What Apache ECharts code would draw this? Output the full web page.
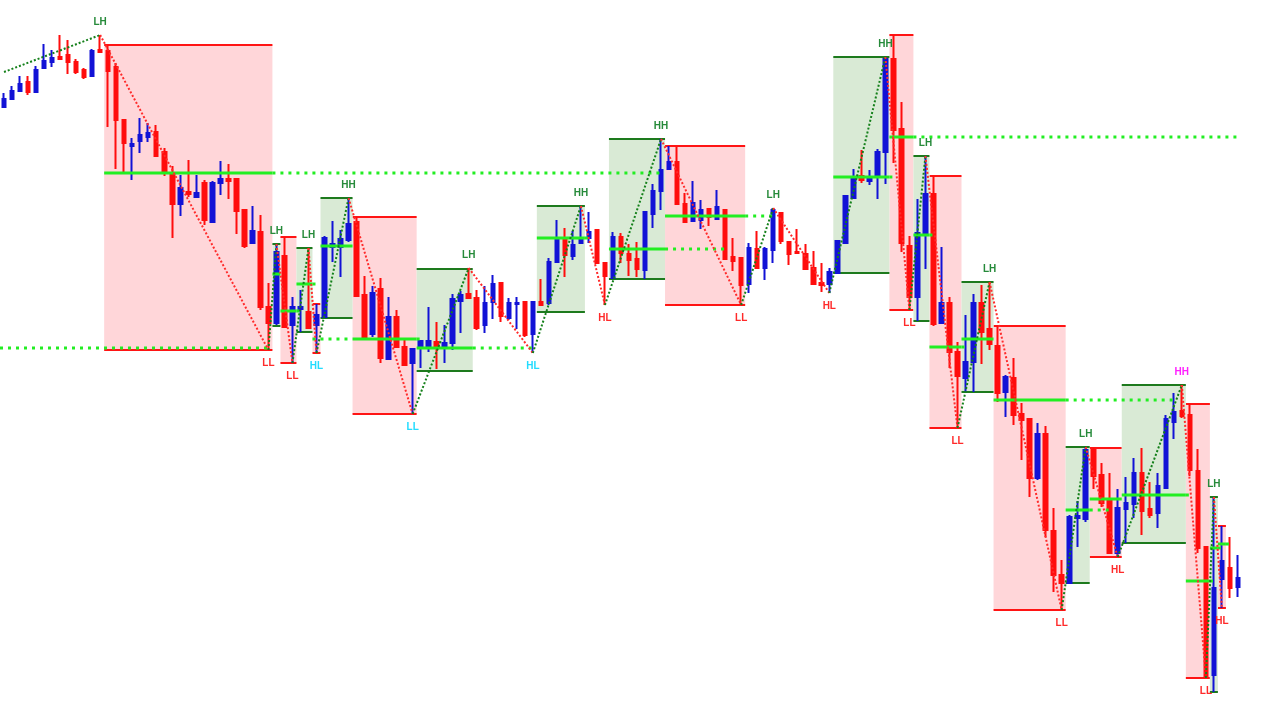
<!DOCTYPE html>
<html><head><meta charset="utf-8">
<script src="https://cdn.jsdelivr.net/npm/echarts@6/dist/echarts.min.js"></script>
<style>html,body{margin:0;padding:0;background:#fff;overflow:hidden}#c{width:1282px;height:723px}</style>
</head><body><div id="c"></div><script>
// ---- data (price units are arbitrary) ----
const categories = Array.from({length:160},(_,i)=>'Bar ' + (i+1));
const opens = [693,701,709,718,708,732,738,743,745,738, 730,724,750,749,733,680,654,659,663,668,
 648,626,596,608,603,617,578,617,621,621, 590,557,568,493,477,544,475,491,488,475,
 483,553,553,560,578,505,466,511,441,483, 453,437,453,453,458,453,457,499,506,502,
 475,498,517,482,496,498,466,498,497,538, 560,544,557,562,570,537,522,563,546,541,
 530,586,609,631,638,596,579,580,591,581, 590,543,542,516,551,532,550,587,558,548,
 546,532,517,516,527,557,602,624,619,623, 648,741,671,554,503,565,606,477,497,448,
 422,438,497,471,454,408,422,386,381,322, 366,269,225,217,282,281,350,325,299,247,
 291,296,327,291,287,312,378,389,385,329, 253,125,221,232,213];
const closes = [701,709,716,708,730,739,742,741,738,728, 723,749,748,729,680,657,656,665,667,644,
 627,596,612,606,607,580,617,621,619,589, 554,569,493,477,548,473,493,493,472,485,
 562,556,561,576,504,463,507,442,483,453, 435,451,459,459,453,457,501,505,502,472,
 497,516,484,497,497,465,498,495,538,560, 545,555,561,568,537,524,563,547,540,531,
 588,609,630,638,596,578,597,590,583,593, 541,539,515,552,532,551,590,559,546,547,
 531,516,515,528,559,604,622,620,622,648, 741,670,557,503,567,606,476,497,448,424,
 438,497,468,456,407,423,385,380,322,366, 270,225,217,283,284,350,324,297,247,292,
 297,327,289,285,314,381,388,384,330,252, 123,212,239,212,222];
const lows = [693,701,709,705,708,731,733,741,726,726, 721,724,748,673,631,627,620,647,658,644,
 624,562,584,603,602,575,577,605,601,566, 552,557,490,450,475,473,437,468,472,447,
 483,538,523,558,504,463,463,437,441,453, 435,386,432,448,431,437,450,467,502,470,
 467,481,478,480,471,463,447,495,495,538, 523,540,557,557,537,495,521,537,524,523,
 521,572,590,631,596,578,579,571,574,581, 541,529,495,507,532,520,537,556,535,547,
 530,516,508,507,527,557,602,617,615,601, 616,637,548,490,479,531,474,477,432,372,
 408,408,436,450,398,383,375,340,303,320, 263,208,190,217,253,278,311,293,247,243,
 257,282,265,282,272,312,361,382,324,247, 122,108,192,202,203];
const highs = [707,714,724,724,734,756,750,765,760,741, 732,751,765,755,737,680,662,682,677,675,
 652,634,625,640,625,620,619,639,636,621, 590,594,585,517,556,563,503,510,552,496,
 564,579,570,602,583,524,514,522,503,490, 462,451,459,493,478,475,506,509,532,510,
 514,525,518,502,503,498,499,521,542,580, 572,569,594,588,570,537,568,567,556,558,
 589,616,661,654,653,607,619,600,591,610, 590,562,542,557,569,553,592,588,559,571,
 556,549,537,532,560,604,631,650,630,651, 743,765,698,564,601,644,624,553,503,458,
 485,506,515,518,474,425,442,397,382,377, 374,292,240,285,299,353,352,337,327,311,
 323,342,352,318,327,385,407,415,396,351, 253,303,274,263,245];

// swing structure
const swingIdx   = [0,12,33,34,36,38,39,43,51,58,66,72,75,82,92,96,103,110,113,115,119,123,132,135,139,147,150,151,152];
const swingPrice = [728,765,450,556,437,552,447,602,386,532,447,594,495,661,495,592,507,743,490,644,372,518,190,353,243,415,122,303,192];
const swingLabel = ['','LH','LL','LH','LL','LH','HL','HH','LL','LH','HL','HH','HL','HH','LL','LH','HL','HH','LL','LH','LL','LH','LL','LH','HL','HH','LL','LH','HL'];
const swingAlt   = [0,0,0,0,0,0,1,0,1,0,1,0,0,0,0,0,0,0,0,0,0,0,0,0,0,1,0,0,0];

// zones: [firstBar, lastBar, top, bottom]
const bearZones = [[13,33,755,450],[35,36,563,437],[39,39,496,447],[44,51,583,386],[83,92,654,495],[111,113,765,490],
 [116,119,624,372],[124,132,474,190],[136,139,352,243],[148,150,396,122],[152,152,274,192]];
const bullZones = [[34,34,556,474],[37,38,552,468],[40,43,602,482],[52,58,531,429],[67,72,594,488],[76,82,661,521],
 [104,110,743,527],[114,115,644,479],[120,123,518,408],[133,135,353,217],[140,147,415,257],[151,151,303,108]];
// levels: [firstBar, lastBar, price]
const levelSolid = [[13,33,627],[34,34,526],[35,36,489],[37,38,516],[40,43,554],[44,51,461],[52,58,452],[67,72,562],
 [76,82,551],[83,92,584],[104,110,623],[111,113,663],[114,115,565],[116,119,453],[120,123,461],[124,132,400],
 [133,135,290],[136,139,301],[140,147,305],[148,150,219],[151,151,252],[152,152,256]];
const levelExt = [[34,82,627],[0,33,452],[37,37,489],[39,39,516],[39,43,461],[52,52,461],[59,66,452],[73,73,562],
 [83,90,551],[93,96,584],[111,111,623],[114,154,663],[116,116,565],[120,120,453],[133,146,400],[136,138,290],
 [148,148,305],[151,151,219],[152,152,252],[153,153,256]];

// ---- build ----
const candleData = opens.map((o,i)=>[o, closes[i], lows[i], highs[i]]);
const legs = [];
for (let k=1;k<swingIdx.length;k++) legs.push([swingIdx[k-1], swingPrice[k-1], swingIdx[k], swingPrice[k]]);
const pts = swingIdx.map((x,k)=>[x, swingPrice[k]]);

const C = {
  bull:'#1212d6', bear:'#ff0d0d',
  bearFill:'#ffd6d9', bearLine:'#ff1414',
  bullFill:'#d9ead5', bullLine:'#1d7a1d',
  level:'#22ee22',
  zzUp:'#14801a', zzDn:'#ff2b2b',
  lblHigh:'#268a3a', lblLow:'#ff2a2a', lblAltLow:'#22dcff', lblAltHigh:'#ff22ff'
};

function zoneRender(fill, stroke){
  return function(params, api){
    const s=api.value(0), e=api.value(1), top=api.value(2), bot=api.value(3);
    const bw=api.size([1,0])[0];
    const a=api.coord([s,top]), b=api.coord([e,bot]);
    const x1=a[0]-bw/2, x2=b[0]+bw/2;
    return {type:'group', children:[
      {type:'rect', shape:{x:x1,y:a[1],width:x2-x1,height:b[1]-a[1]}, style:{fill:fill}},
      {type:'line', shape:{x1:x1,y1:a[1],x2:x2,y2:a[1]}, style:{stroke:stroke,lineWidth:2}},
      {type:'line', shape:{x1:x1,y1:b[1],x2:x2,y2:b[1]}, style:{stroke:stroke,lineWidth:2}}
    ]};
  };
}
function levelRender(dotted){
  return function(params, api){
    const s=api.value(0), e=api.value(1), p=api.value(2);
    const bw=api.size([1,0])[0];
    const a=api.coord([s,p]), b=api.coord([e,p]);
    const x1=a[0]-bw/2, x2= dotted ? b[0] : b[0]+bw/2;
    return {type:'line', shape:{x1:x1,y1:a[1],x2:x2,y2:a[1]},
      style:{stroke:C.level,lineWidth:3,lineDash: dotted?[3,5]:null}};
  };
}

const chart = echarts.init(document.getElementById('c'), null, {renderer:'canvas'});
chart.setOption({
  animation:false,
  backgroundColor:'#ffffff',
  grid:{left:0,right:0,top:0,bottom:0,containLabel:false},
  xAxis:{type:'category',data:categories,show:false,boundaryGap:true},
  yAxis:{type:'value',min:77,max:800,show:false,splitLine:{show:false}},
  series:[
    {type:'custom', name:'bear zones', data:bearZones, renderItem:zoneRender(C.bearFill,C.bearLine), encode:{x:[0,1],y:[2,3]}, z:1, silent:true},
    {type:'custom', name:'bull zones', data:bullZones, renderItem:zoneRender(C.bullFill,C.bullLine), encode:{x:[0,1],y:[2,3]}, z:1, silent:true},
    {type:'candlestick', name:'price', data:candleData, barWidth:4, z:2,
      itemStyle:{color:C.bull,color0:C.bear,borderColor:C.bull,borderColor0:C.bear,borderWidth:2}},
    {type:'custom', name:'levels', data:levelSolid, renderItem:levelRender(false), encode:{x:[0,1],y:2}, z:3, silent:true},
    {type:'custom', name:'level ext', data:levelExt, renderItem:levelRender(true), encode:{x:[0,1],y:2}, z:3, silent:true},
    {type:'custom', name:'zigzag', data:legs, z:4, silent:true, encode:{x:[0,2],y:[1,3]},
      renderItem:function(params, api){
        const a=api.coord([api.value(0),api.value(1)]), b=api.coord([api.value(2),api.value(3)]);
        const up = api.value(3) > api.value(1);
        return {type:'line', shape:{x1:a[0],y1:a[1],x2:b[0],y2:b[1]},
          style:{stroke: up?C.zzUp:C.zzDn, lineWidth:2, lineDash:[2,2]}};
      }},
    {type:'custom', name:'swing labels', data:pts, z:5, silent:true, encode:{x:0,y:1},
      renderItem:function(params, api){
        const k=params.dataIndex, t=swingLabel[k];
        if(!t) return null;
        const p=api.coord([api.value(0),api.value(1)]);
        const isHigh = t[1]==='H';
        let col = isHigh ? C.lblHigh : C.lblLow;
        if (swingAlt[k]) col = isHigh ? C.lblAltHigh : C.lblAltLow;
        return {type:'text', x:p[0], y:p[1] + (isHigh?-13:13),
          style:{text:t, fill:col, font:'bold 10px "Liberation Sans", Arial, sans-serif', align:'center', verticalAlign:'middle'}};
      }}
  ]
});
</script></body></html>
